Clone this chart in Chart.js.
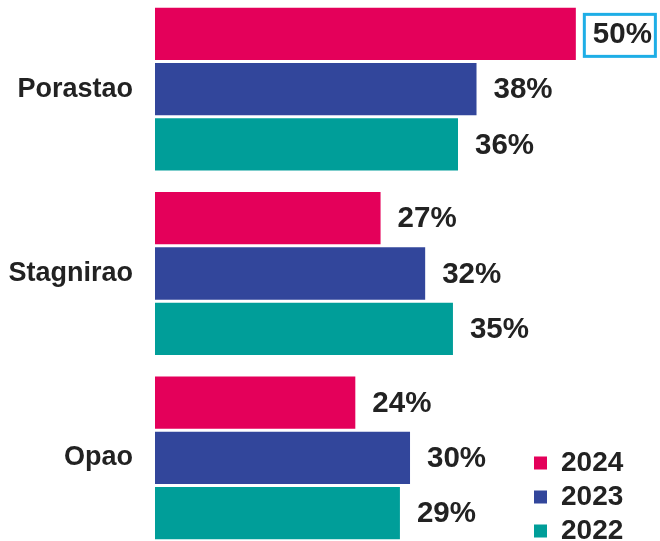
<!DOCTYPE html>
<html>
<head>
<meta charset="utf-8">
<script src="https://cdn.jsdelivr.net/npm/chart.js@4/dist/chart.umd.min.js"></script>
<style>
  html, body { margin: 0; padding: 0; background: #fff; overflow: hidden; }
  #wrap { position: absolute; left: 0; top: -3px; width: 660px; height: 553px; }
</style>
</head>
<body>
<div id="wrap"><canvas id="chart"></canvas></div>
<script>
const categories = ["Porastao", "Stagnirao", "Opao"];
const seriesNames = ["2024", "2023", "2022"];
const values2024 = [50.0, 26.8, 23.8];
const values2023 = [38.2, 32.1, 30.3];
const values2022 = [36.0, 35.4, 29.1];
const colors = ["#e4005a", "#32469b", "#009e99"];

const textColor = "#222222";
const fontFamily = "'Liberation Sans', Arial, Helvetica, sans-serif";

// value labels to the right of each bar, largest one boxed
const barLabels = {
  id: "barLabels",
  afterDatasetsDraw(chart) {
    const ctx = chart.ctx;
    let maxVal = -Infinity;
    chart.data.datasets.forEach((ds) => ds.data.forEach((v) => { if (v > maxVal) maxVal = v; }));
    ctx.save();
    ctx.font = "bold 29.5px " + fontFamily;
    ctx.textAlign = "left";
    ctx.textBaseline = "middle";
    chart.data.datasets.forEach((ds, i) => {
      const meta = chart.getDatasetMeta(i);
      meta.data.forEach((bar, j) => {
        const v = ds.data[j];
        const txt = Math.round(v) + "%";
        const x = bar.x + 17;
        const y = bar.y + 1;
        if (v === maxVal) {
          const w = ctx.measureText(txt).width;
          ctx.fillStyle = "#fff";
          ctx.fillRect(x - 10, y - 22, w + 15, 45);
          ctx.strokeStyle = "#1eaee6";
          ctx.lineWidth = 3;
          ctx.strokeRect(x - 8.5, y - 20.5, w + 12, 42);
        }
        ctx.fillStyle = textColor;
        ctx.fillText(txt, x, y);
      });
    });
    ctx.restore();
  }
};

// put the legend in the lower right corner
const legendSpot = {
  id: "legendSpot",
  afterLayout(chart) {
    const lg = chart.legend;
    if (!lg) return;
    lg.left = 528;
    lg.right = lg.left + lg.width;
    lg.top = 446;
    lg.bottom = lg.top + lg.height;
  }
};

new Chart(document.getElementById("chart"), {
  type: "bar",
  data: {
    labels: categories,
    datasets: [
      { label: seriesNames[0], data: values2024, backgroundColor: colors[0] },
      { label: seriesNames[1], data: values2023, backgroundColor: colors[1] },
      { label: seriesNames[2], data: values2022, backgroundColor: colors[2] },
    ],
  },
  options: {
    indexAxis: "y",
    responsive: true,
    maintainAspectRatio: false,
    animation: false,
    categoryPercentage: 0.9,
    barPercentage: 0.946,
    layout: { padding: 0 },
    scales: {
      x: { display: false, min: 0, max: 60 },
      y: {
        grid: { display: false, drawTicks: false },
        border: { display: false },
        ticks: {
          color: textColor,
          padding: 22,
          font: { family: fontFamily, size: 27, weight: "bold" },
        },
        afterFit: (scale) => {
          scale.width = 155;
          scale.paddingTop = 0;
          scale.paddingBottom = 0;
        },
      },
    },
    plugins: {
      tooltip: { enabled: false },
      legend: {
        position: "chartArea",
        align: "start",
        labels: {
          boxWidth: 13,
          boxHeight: 13,
          padding: 6,
          color: textColor,
          font: { family: fontFamily, size: 28, weight: "bold" },
        },
      },
    },
  },
  plugins: [barLabels, legendSpot],
});
</script>
</body>
</html>
